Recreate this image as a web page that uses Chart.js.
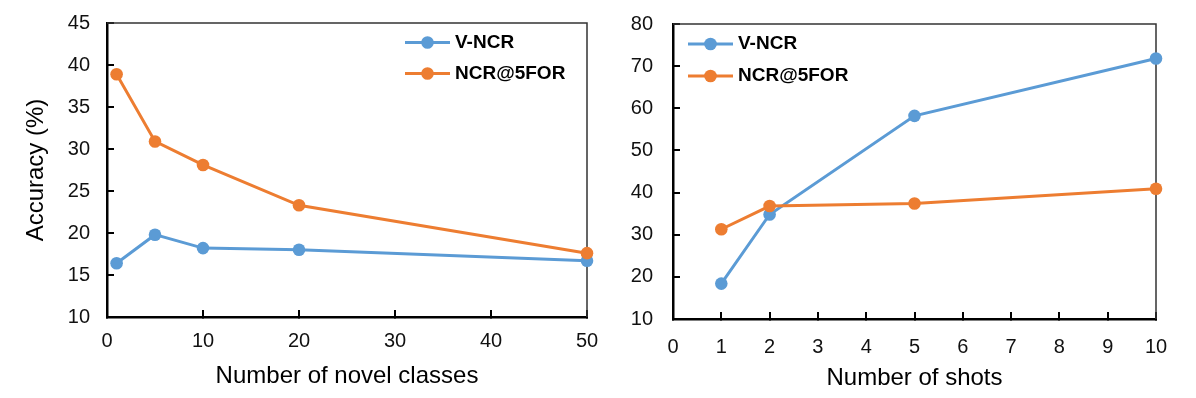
<!DOCTYPE html>
<html>
<head>
<meta charset="utf-8">
<script src="https://cdn.jsdelivr.net/npm/chart.js@4.4.1/dist/chart.umd.min.js"></script>
<style>
  html, body { margin: 0; padding: 0; background: #fff; }
  body { width: 1196px; height: 398px; position: relative; overflow: hidden; }
  .wrap { position: absolute; top: 0; }
</style>
</head>
<body>
<div class="wrap" style="left:0px;"><canvas id="c1" width="600" height="398" style="width:600px;height:398px;"></canvas></div>
<div class="wrap" style="left:600px;"><canvas id="c2" width="596" height="398" style="width:596px;height:398px;"></canvas></div>
<script>
// ---- Data ----
const seriesNames = ['V-NCR', 'NCR@5FOR'];
const leftClasses = [1, 5, 10, 20, 50];
const leftVNCR = [16.4, 19.8, 18.2, 18.0, 16.7];
const leftNCR5FOR = [38.9, 30.9, 28.1, 23.3, 17.6];
const rightShots = [1, 2, 5, 10];
const rightVNCR = [18.4, 34.8, 58.2, 71.8];
const rightNCR5FOR = [31.3, 36.8, 37.4, 40.9];
const leftXTicks = [0, 10, 20, 30, 40, 50];
const leftYTicks = [10, 15, 20, 25, 30, 35, 40, 45];
const rightXTicks = [0, 1, 2, 3, 4, 5, 6, 7, 8, 9, 10];
const rightYTicks = [10, 20, 30, 40, 50, 60, 70, 80];
const leftXTitle = 'Number of novel classes';
const leftYTitle = 'Accuracy (%)';
const rightXTitle = 'Number of shots';

// ---- Styles ----
const BLUE = '#5B9BD5';
const ORANGE = '#ED7D31';
const FONT = "'Liberation Sans', Arial, sans-serif";

function toPoints(xs, ys) { return xs.map((x, i) => ({ x: x, y: ys[i] })); }

function makeDataset(label, xs, ys, color, order) {
  return {
    label: label,
    data: toPoints(xs, ys),
    borderColor: color,
    backgroundColor: color,
    pointBackgroundColor: color,
    pointBorderColor: color,
    pointBorderWidth: 0,
    pointRadius: 6.3,
    borderWidth: 3,
    tension: 0,
    clip: false,
    order: order
  };
}

const framePlugin = {
  id: 'frame',
  beforeDatasetsDraw(chart) {
    const a = chart.chartArea;
    const ctx = chart.ctx;
    ctx.save();
    ctx.strokeStyle = '#333';
    ctx.lineWidth = 1.5;
    ctx.beginPath();
    ctx.moveTo(a.left, a.top);
    ctx.lineTo(a.right, a.top);
    ctx.lineTo(a.right, a.bottom);
    ctx.stroke();
    ctx.restore();
  }
};

const legendPlugin = {
  id: 'customLegend',
  afterDraw(chart, args, opts) {
    const ctx = chart.ctx;
    ctx.save();
    chart.data.datasets.forEach((ds, i) => {
      const y = opts.y + i * opts.dy;
      ctx.strokeStyle = ds.borderColor;
      ctx.lineWidth = 3;
      ctx.beginPath();
      ctx.moveTo(opts.x, y);
      ctx.lineTo(opts.x + opts.len, y);
      ctx.stroke();
      ctx.fillStyle = ds.backgroundColor;
      ctx.beginPath();
      ctx.arc(opts.x + opts.len / 2, y, 6.3, 0, Math.PI * 2);
      ctx.fill();
      ctx.fillStyle = '#000';
      ctx.font = 'bold 19px ' + FONT;
      ctx.textBaseline = 'middle';
      ctx.textAlign = 'left';
      ctx.fillText(ds.label, opts.x + opts.len + 5, y);
    });
    ctx.restore();
  }
};

function zeroPadding(s) {
  s.paddingLeft = 0; s.paddingRight = 0; s.paddingTop = 0; s.paddingBottom = 0;
}

function axisCommon(min, max, step, tickPad, tickVals) {
  return {
    type: 'linear',
    min: min,
    max: max,
    afterBuildTicks: (scale) => { scale.ticks = tickVals.map(v => ({ value: v })); },
    ticks: { stepSize: step, padding: tickPad, color: '#111', font: { family: FONT, size: 20 } },
    grid: { drawOnChartArea: false, drawTicks: true, tickLength: -7, color: '#000', lineWidth: 2 },
    border: { display: true, color: '#000', width: 2.5 }
  };
}

function makeChart(id, cfg) {
  const x = axisCommon(cfg.xMin, cfg.xMax, cfg.xStep, cfg.xTickPad, cfg.xTicks);
  x.position = 'bottom';
  x.afterFit = (s) => { s.height = cfg.xHeight; zeroPadding(s); };
  x.title = { display: true, text: cfg.xTitle, color: '#000', font: { family: FONT, size: 24 }, padding: { top: 0, bottom: cfg.xTitlePad } };
  const y = axisCommon(cfg.yMin, cfg.yMax, cfg.yStep, cfg.yTickPad, cfg.yTicks);
  y.position = 'left';
  y.afterFit = (s) => { s.width = cfg.yWidth; zeroPadding(s); };
  if (cfg.yTitle) {
    y.title = { display: true, text: cfg.yTitle, color: '#000', font: { family: FONT, size: 24 }, padding: { top: 22, bottom: 0 } };
  }
  return new Chart(document.getElementById(id), {
    type: 'line',
    data: {
      datasets: [
        makeDataset(seriesNames[0], cfg.xs, cfg.s1, BLUE, 1),
        makeDataset(seriesNames[1], cfg.xs, cfg.s2, ORANGE, 0)
      ]
    },
    options: {
      responsive: false,
      animation: false,
      layout: { padding: cfg.padding },
      scales: { x: x, y: y },
      plugins: {
        legend: { display: false },
        tooltip: { enabled: false },
        customLegend: cfg.legend
      }
    },
    plugins: [framePlugin, legendPlugin]
  });
}

makeChart('c1', {
  xs: leftClasses, s1: leftVNCR, s2: leftNCR5FOR,
  xMin: 0, xMax: 50, xStep: 10, xTicks: leftXTicks, xTickPad: 19.5, xHeight: 81, xTitle: leftXTitle, xTitlePad: 7,
  yMin: 10, yMax: 45, yStep: 5, yTicks: leftYTicks, yTickPad: 24, yWidth: 107, yTitle: leftYTitle,
  padding: { left: 0, top: 23, right: 13, bottom: 0 },
  legend: { x: 405, y: 42.5, dy: 31, len: 45 }
});

makeChart('c2', {
  xs: rightShots, s1: rightVNCR, s2: rightNCR5FOR,
  xMin: 0, xMax: 10, xStep: 1, xTicks: rightXTicks, xTickPad: 23, xHeight: 79, xTitle: rightXTitle, xTitlePad: 5,
  yMin: 10, yMax: 80, yStep: 10, yTicks: rightYTicks, yTickPad: 27, yWidth: 73, yTitle: null,
  padding: { left: 0, top: 24, right: 40, bottom: 0 },
  legend: { x: 88, y: 44, dy: 32, len: 45 }
});
</script>
</body>
</html>
